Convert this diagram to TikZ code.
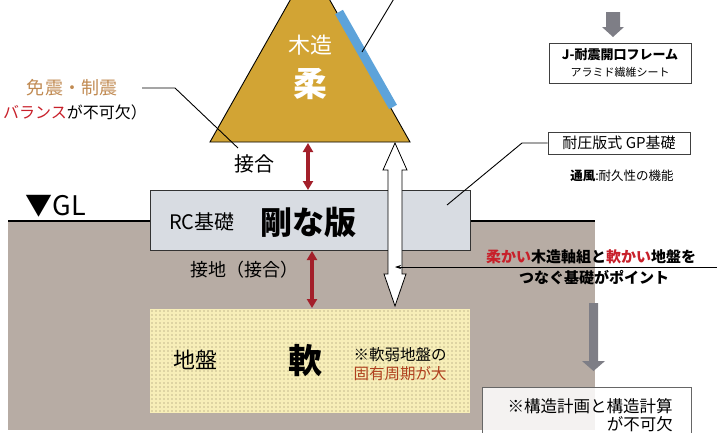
\documentclass[tikz,border=0pt]{standalone}
\usepackage{fontspec}
\setmainfont{Noto Sans CJK JP}
\usetikzlibrary{arrows.meta}
\definecolor{tri}{HTML}{D2A434}
\definecolor{blu}{HTML}{5DA3DA}
\definecolor{grd}{HTML}{B7ACA4}
\definecolor{rcfill}{HTML}{D8DCE2}
\definecolor{soilfill}{HTML}{F7EEB8}
\definecolor{dotc}{HTML}{8C7E5E}
\definecolor{dred}{HTML}{A31F2A}
\definecolor{tanc}{HTML}{C08A52}
\definecolor{txtred}{HTML}{C8202A}
\definecolor{garr}{HTML}{7E7E86}
\definecolor{brn}{HTML}{B0401E}
\begin{document}
\begin{tikzpicture}[x=1pt,y=-1pt,
  txt/.style={inner sep=0pt, anchor=center},
  redarr/.style={draw=dred, line width=3.4pt, {Triangle[length=9pt,width=10pt]}-{Triangle[length=9pt,width=10pt]}},
  lead/.style={draw=black, line width=0.9pt},
  infobox/.style={draw=black!75, line width=0.8pt, fill=white, inner sep=0pt},
  grayarrow/.style={fill=garr}]
\useasboundingbox (0,0) rectangle (717,432);
\clip (0,0) rectangle (717,432);
% ground
\fill[grd] (8,221) rectangle (595,430);
\draw[line width=1.8pt] (8,221) -- (150,221);
\draw[line width=1.8pt] (470,221) -- (595,221);
\node[txt, font=\fontsize{27}{27}\selectfont] (gl) at (56,206) {▼GL};
% RC block
\node[draw=black!80, line width=1pt, fill=rcfill, minimum width=320pt, minimum height=60pt, inner sep=0pt] (rc) at (310,220) {};
\node[txt, font=\fontsize{20}{20}\selectfont] (rct) at (202,222) {RC基礎};
\node[txt, font=\fontsize{32}{32}\selectfont\bfseries] (rcb) at (308,222) {剛な版};
% soil block
\node[fill=soilfill, minimum width=320pt, minimum height=104pt, inner sep=0pt] (soil) at (310,361) {};
\foreach \i in {0,...,79} {\foreach \j in {0,...,25} {\fill[dotc] (152+\i*4,311+\j*4) circle (0.65pt);}}
\node[txt, font=\fontsize{22}{22}\selectfont] (sl) at (195,360) {地盤};
\node[txt, font=\fontsize{34}{34}\selectfont\bfseries] (sb) at (305,361) {軟};
\node[txt, font=\fontsize{15.5}{15.5}\selectfont] (s1) at (400,355) {※軟弱地盤の};
\node[txt, font=\fontsize{15.5}{15.5}\selectfont, text=brn] (s2) at (400,374) {固有周期が大};
% triangle
\draw[fill=tri, line width=0.9pt] (210,142) coordinate (tl) -- (310,-35) -- (410,142) coordinate (tr) -- cycle;
\draw[blu, line width=9pt] (339,12) -- (393,107);
\coordinate (bl) at (362,52);
\coordinate (bltop) at (398,-8);
\draw[lead] (bl) -- (bltop);
\node[txt, text=white, font=\fontsize{22}{22}\selectfont] (mk) at (310,45) {木造};
\node[txt, text=white, font=\fontsize{34}{34}\selectfont\bfseries] (ju) at (310,84) {柔};
% left annotation
\node[txt, text=tanc, font=\fontsize{18}{18}\selectfont] (mz) at (72,88) {免震・制震};
\node[txt, font=\fontsize{16}{16}\selectfont] (bal) at (75,112) {\textcolor{txtred}{バランス}が不可欠）};
\coordinate (m1) at (142,88);
\coordinate (m2) at (175,88);
\coordinate (m3) at (238,148);
\draw[lead] (m1) -- (m2) -- (m3);
% junction labels and red arrows
\node[txt, font=\fontsize{20}{20}\selectfont] (sg) at (254,164) {接合};
\coordinate (ra1) at (308,143);
\coordinate (ra2) at (308,190);
\draw[redarr] (ra1) -- (ra2);
\node[txt, font=\fontsize{18}{18}\selectfont] (sc) at (244,270) {接地（接合）};
\coordinate (rb1) at (312,251);
\coordinate (rb2) at (312,308);
\draw[redarr] (rb1) -- (rb2);
% hollow double arrow
\draw[fill=white, line width=0.8pt] (395,143) -- (407,170) -- (402,170) -- (402,274) -- (406,274) -- (395,306) -- (384,274) -- (388,274) -- (388,170) -- (383,170) -- cycle;
\coordinate (hp) at (395,267);
% right point text
\coordinate (pr) at (720,267);
\draw[line width=0.7pt, -{Stealth[length=6pt,width=4pt]}] (pr) -- (hp);
\node[txt, font=\fontsize{15}{15}\selectfont\bfseries] (p1) at (591,257) {\textcolor{txtred}{柔かい}木造軸組と\textcolor{txtred}{軟かい}地盤を};
\node[txt, font=\fontsize{15}{15}\selectfont\bfseries] (p2) at (594,278) {つなぐ基礎がポイント};
% GP box
\node[infobox, minimum width=142pt, minimum height=22pt, font=\fontsize{15}{15}\selectfont] (gp) at (619,143) {耐圧版式 GP基礎};
\coordinate (g1) at (447,205);
\coordinate (g2) at (522,143);
\draw[lead] (g1) -- (g2) -- (gp.west);
\node[txt, font=\fontsize{12.5}{12.5}\selectfont] (tf) at (622,176) {\textbf{通風}:耐久性の機能};
% J box
\node[infobox, minimum width=142pt, minimum height=40pt] (jb) at (620,63) {};
\node[txt, font=\fontsize{13}{13}\selectfont\bfseries] (j1) at (620,55) {J-耐震開口フレーム};
\node[txt, font=\fontsize{11}{11}\selectfont] (j2) at (620,72) {アラミド繊維シート};
\fill[grayarrow] (606,12) -- (620,12) -- (620,27) -- (624,27) -- (613,37) -- (602,27) -- (606,27) -- cycle;
% gray down arrow
\fill[grayarrow] (589,303) -- (598,303) -- (598,361) -- (605,361) -- (593.5,371) -- (582,361) -- (589,361) -- cycle;
% bottom box
\node[draw=black!60, line width=0.8pt, fill=white, fill opacity=0.85, minimum width=209pt, minimum height=60pt, inner sep=0pt] (bb) at (586.5,417) {};
\node[txt, font=\fontsize{16.5}{16.5}\selectfont] (b1) at (590,406) {※構造計画と構造計算};
\node[txt, anchor=east, font=\fontsize{16.5}{16.5}\selectfont] (b2) at (673,424) {が不可欠};
\end{tikzpicture}
\end{document}
